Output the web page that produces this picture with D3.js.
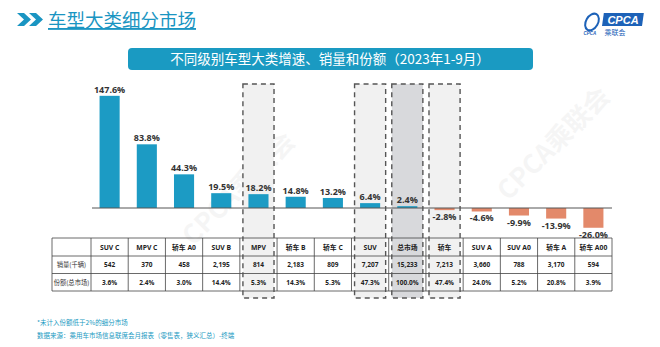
<!DOCTYPE html>
<html><head><meta charset="utf-8">
<script src="https://cdn.jsdelivr.net/npm/d3@7"></script>
<style>body{margin:0;background:#fff}svg{display:block}</style>
</head><body>
<svg id="c" width="660" height="347"></svg>
<script>
const categories = ['SUV C','MPV C','轿车 A0','SUV B','MPV','轿车 B','轿车 C','SUV','总市场','轿车','SUV A','SUV A0','轿车 A','轿车 A00'];
const growth = [147.6,83.8,44.3,19.5,18.2,14.8,13.2,6.4,2.4,-2.8,-4.6,-9.9,-13.9,-26.0];
const sales = ['542','370','458','2,195','814','2,183','809','7,207','15,233','7,213','3,660','788','3,170','594'];
const share = ['3.6%','2.4%','3.0%','14.4%','5.3%','14.3%','5.3%','47.3%','100.0%','47.4%','24.0%','5.2%','20.8%','3.9%'];
const rowLabels = ['销量(千辆)','份额(总市场)'];
const highlighted = ['MPV','SUV','总市场','轿车'];
const totalCat = '总市场';

const svg = d3.select('#c');
const CJK = '"Noto Sans CJK SC", "Noto Sans", sans-serif';
const MIX = '"Open Sans", "Noto Sans CJK SC", sans-serif';
const teal = '#1c9bc4', salmon = '#e3896a';

const x = d3.scaleBand().domain(categories).range([91, 612]).paddingInner(0.46).paddingOuter(0.23);
const y = d3.scaleLinear().domain([-30, 150]).range([230.8, 94]);
const step = x.step();

// watermarks
[[245,195],[560,150]].forEach(([cx,cy])=>{
  svg.append('text').attr('transform',`translate(${cx},${cy}) rotate(-45)`).attr('text-anchor','middle')
    .attr('font-family',CJK).attr('font-weight',700).attr('font-size',26).attr('fill','#000').attr('opacity',0.035).text('CPCA乘联会');
});

// header
svg.append('path').attr('d','M17,13 L24,13 L31,19.5 L24,26 L17,26 L24,19.5Z M29,13 L36,13 L43,19.5 L36,26 L29,26 L36,19.5Z').attr('fill','#1a95c2');
svg.append('text').attr('x',48).attr('y',27).attr('font-family',CJK).attr('font-size',18.5).attr('fill','#1a95c2')
  .attr('text-decoration','underline').text('车型大类细分市场');

// logo
svg.append('rect').attr('x',603).attr('y',13).attr('width',40).attr('height',13).attr('fill','#1d62b8').attr('transform','skewX(-8)').attr('transform-origin','623px 19px');
svg.append('text').attr('x',623).attr('y',24).attr('text-anchor','middle').attr('font-family','Liberation Sans, Arial').attr('font-style','italic').attr('font-weight',700).attr('font-size',11).attr('fill','#fff').text('CPCA');
svg.append('text').attr('x',615).attr('y',35).attr('text-anchor','middle').attr('font-family',CJK).attr('font-size',7).attr('fill','#1d62b8').text('乘联会');
svg.append('ellipse').attr('cx',592).attr('cy',22).attr('rx',6).attr('ry',9).attr('fill','none').attr('stroke','#1d62b8').attr('stroke-width',2).attr('transform','rotate(30 592 22)');
svg.append('text').attr('x',590).attr('y',35).attr('text-anchor','middle').attr('font-family','Liberation Sans').attr('font-weight',700).attr('font-style','italic').attr('font-size',4.5).attr('fill','#1d62b8').text('CPCA');

// title bar
svg.append('rect').attr('x',128).attr('y',48).attr('width',405).attr('height',22).attr('rx',4).attr('fill','#1a9ac2');
svg.append('text').attr('x',330).attr('y',64).attr('text-anchor','middle').attr('font-family',CJK).attr('font-size',13.5).attr('fill','#fff')
  .text('不同级别车型大类增速、销量和份额（2023年1-9月）');

// highlight boxes (fill)
const boxW = x.bandwidth() + 11, boxTop = 84, boxBot = 298;
const boxes = svg.append('g');
boxes.selectAll('rect').data(highlighted).join('rect')
  .attr('x', d => x(d) + x.bandwidth()/2 - boxW/2).attr('y', boxTop).attr('width', boxW).attr('height', boxBot - boxTop)
  .attr('fill', d => d === totalCat ? '#d8d9dc' : '#f1f1f1');

// bars
svg.append('g').selectAll('rect').data(categories).join('rect')
  .attr('x', d => x(d)).attr('width', x.bandwidth())
  .attr('y', (d,i) => y(Math.max(0, growth[i])))
  .attr('height', (d,i) => Math.abs(y(growth[i]) - y(0)))
  .attr('fill', (d,i) => growth[i] >= 0 ? teal : salmon);

// baseline
svg.append('line').attr('x1',92).attr('x2',612).attr('y1',y(0)).attr('y2',y(0)).attr('stroke','#555').attr('stroke-width',1);

// value labels
svg.append('g').selectAll('text').data(categories).join('text')
  .attr('x', d => x(d) + x.bandwidth()/2)
  .attr('y', (d,i) => growth[i] >= 0 ? y(growth[i]) - 3 : y(growth[i]) + 10)
  .attr('text-anchor','middle').attr('font-family','"Open Sans", sans-serif').attr('font-weight',700).attr('font-size',9).attr('fill','#333')
  .text((d,i) => growth[i].toFixed(1) + '%');

// table
const tLeft = 52, c0 = x.range()[0], tRight = x.range()[1];
const rowsY = [238, 256, 273.5, 291];
const tg = svg.append('g');
rowsY.forEach(ry => tg.append('line').attr('x1',tLeft).attr('x2',tRight).attr('y1',ry).attr('y2',ry).attr('stroke','#444').attr('stroke-width',0.8));
const vlines = [tLeft, c0].concat(categories.map(d => x(d) + x.bandwidth()/2 + step/2));
vlines.forEach(vx => tg.append('line').attr('x1',vx).attr('x2',vx).attr('y1',rowsY[0]).attr('y2',rowsY[3]).attr('stroke','#444').attr('stroke-width',0.8));
tg.selectAll('.h').data(categories).join('text').attr('class','h')
  .attr('x', d => x(d) + x.bandwidth()/2).attr('y', (rowsY[0]+rowsY[1])/2 + 2.5)
  .attr('text-anchor','middle').attr('font-family',MIX).attr('font-weight',700).attr('font-size',6.8).attr('fill','#222').text(d => d);
[sales, share].forEach((arr, r) => {
  tg.append('g').selectAll('text').data(categories).join('text')
    .attr('x', d => x(d) + x.bandwidth()/2).attr('y', (rowsY[r+1]+rowsY[r+2])/2 + 2.5)
    .attr('text-anchor','middle').attr('font-family',MIX).attr('font-weight',700).attr('font-size',6.5).attr('fill','#222')
    .text((d,i) => arr[i]);
  tg.append('text').attr('x',(tLeft+c0)/2).attr('y',(rowsY[r+1]+rowsY[r+2])/2 + 2.3).attr('text-anchor','middle')
    .attr('font-family',CJK).attr('font-size',6.3).attr('fill','#333').text(rowLabels[r]);
});

// dashed box outlines
svg.append('g').selectAll('rect').data(highlighted).join('rect')
  .attr('x', d => x(d) + x.bandwidth()/2 - boxW/2).attr('y', boxTop).attr('width', boxW).attr('height', boxBot - boxTop)
  .attr('fill','none').attr('stroke','#555').attr('stroke-width',1.4).attr('stroke-dasharray','5,4');

// footer
svg.append('text').attr('x',37).attr('y',325).attr('font-family',CJK).attr('font-size',6.5).attr('fill','#1a9ac2').text('*未计入份额低于2%的细分市场');
svg.append('text').attr('x',37).attr('y',338).attr('font-family',CJK).attr('font-size',6.5).attr('fill','#1a9ac2').text('数据来源：乘用车市场信息联席会月报表（零售表，狭义汇总）-终端');
</script>
</body></html>
